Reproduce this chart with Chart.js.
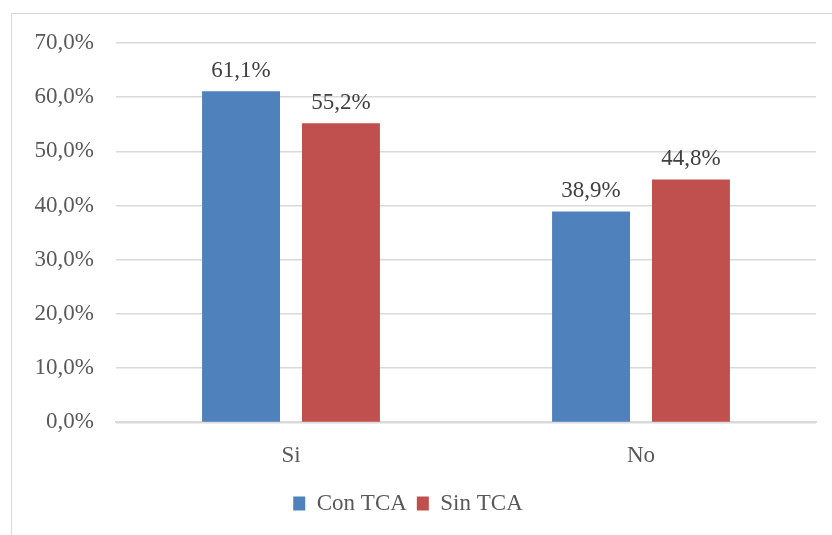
<!DOCTYPE html>
<html>
<head>
<meta charset="utf-8">
<script src="https://cdn.jsdelivr.net/npm/chart.js@4/dist/chart.umd.min.js"></script>
<style>
  html, body { margin: 0; padding: 0; background: #fff; }
  #wrap { position: relative; width: 832px; height: 535px; }
  #frame { position: absolute; left: 11px; top: 13px; right: 0; bottom: 0; border-left: 1px solid #d9d9d9; border-top: 1px solid #d9d9d9; }
  canvas { position: absolute; left: 0; top: 0; }
</style>
</head>
<body>
<div id="wrap">
  <div id="frame"></div>
  <canvas id="grafico" width="832" height="535"></canvas>
</div>
<script>
const categorias = ["Si", "No"];
const conTCA = [61.1, 38.9];
const sinTCA = [55.2, 44.8];
const etiquetasSeries = ["Con TCA", "Sin TCA"];

const fmt = v => v.toFixed(1).replace('.', ',') + '%';
const fuente = { family: "'Liberation Serif', serif", size: 23 };

// etiquetas encima de cada barra
const etiquetas = {
  id: 'etiquetas',
  afterDatasetsDraw(chart) {
    const ctx = chart.ctx;
    ctx.save();
    ctx.font = "23px 'Liberation Serif', serif";
    ctx.fillStyle = '#404040';
    ctx.textAlign = 'center';
    ctx.textBaseline = 'bottom';
    chart.data.datasets.forEach((ds, i) => {
      chart.getDatasetMeta(i).data.forEach((bar, j) => {
        ctx.fillText(fmt(ds.data[j]), bar.x, bar.y - 9);
      });
    });
    ctx.restore();
  }
};

new Chart(document.getElementById('grafico'), {
  type: 'bar',
  data: {
    labels: categorias,
    datasets: [
      { label: etiquetasSeries[0], data: conTCA, backgroundColor: '#4f81bd' },
      { label: etiquetasSeries[1], data: sinTCA, backgroundColor: '#c0504d' }
    ]
  },
  options: {
    responsive: false,
    animation: false,
    categoryPercentage: 0.571,
    barPercentage: 0.78,
    layout: { padding: { top: 43, right: 16, left: 0, bottom: 10 } },
    plugins: {
      tooltip: { enabled: false },
      legend: {
        position: 'bottom',
        labels: { font: fuente, color: '#595959', boxWidth: 12, boxHeight: 14, padding: 10 }
      }
    },
    scales: {
      x: {
        grid: { display: false },
        border: { color: '#d9d9d9', width: 2 },
        ticks: { font: fuente, color: '#595959', padding: 12 }
      },
      y: {
        min: 0, max: 70,
        afterFit: s => { s.width = 116; },
        border: { display: false },
        grid: { color: '#d9d9d9', lineWidth: 1.5, drawTicks: false },
        ticks: { stepSize: 10, font: fuente, color: '#595959', padding: 22, callback: v => fmt(v) }
      }
    }
  },
  plugins: [etiquetas]
});
</script>
</body>
</html>
